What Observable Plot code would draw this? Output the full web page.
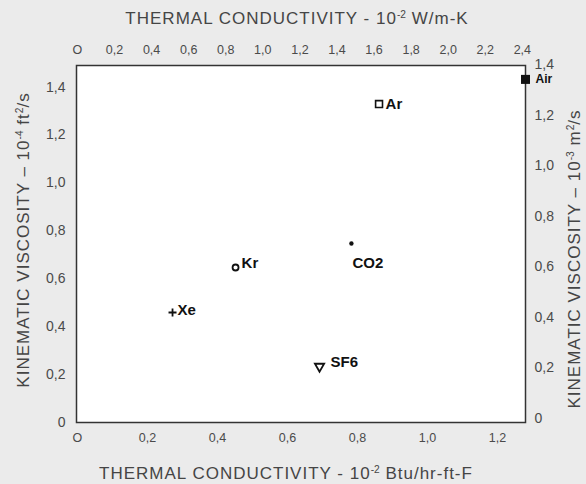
<!DOCTYPE html>
<html>
<head>
<meta charset="utf-8">
<script src="https://cdn.jsdelivr.net/npm/d3@7"></script>
<script src="https://cdn.jsdelivr.net/npm/@observablehq/plot@0.6"></script>
<style>
  html, body { margin: 0; padding: 0; background: #ebebeb; }
  #wrap { position: relative; width: 586px; height: 484px; background: #ebebeb; overflow: hidden;
          font-family: "Liberation Sans", Arial, sans-serif; color: #454545; }
  #wrap svg { position: absolute; left: 0; top: 0; }
  .ttl { position: absolute; white-space: nowrap; font-size: 17px; letter-spacing: 1px; line-height: 17px; }
  .ttl sup { font-size: 0.6em; line-height: 0; vertical-align: 0.55em; letter-spacing: 0; }
  #top { left: 297px; top: 18px; transform: translate(-50%, -50%); }
  #bottom { left: 286px; top: 473px; transform: translate(-50%, -50%); }
  #left { left: 23px; top: 240px; transform: translate(-50%, -50%) rotate(-90deg); }
  #right { left: 574px; top: 259px; transform: translate(-50%, -50%) rotate(-90deg); }
</style>
</head>
<body>
<div id="wrap">
  <div class="ttl" id="top">THERMAL CONDUCTIVITY - 10<sup>-2</sup> W/m-K</div>
  <div class="ttl" id="bottom">THERMAL CONDUCTIVITY - 10<sup>-2</sup> Btu/hr-ft-F</div>
  <div class="ttl" id="left">KINEMATIC VISCOSITY – 10<sup>-4</sup> ft<sup>2</sup>/s</div>
  <div class="ttl" id="right">KINEMATIC VISCOSITY – 10<sup>-3</sup> m<sup>2</sup>/s</div>
</div>
<script>
// ---- tick values & labels ----
const wmkTicks = [0, 0.2, 0.4, 0.6, 0.8, 1.0, 1.2, 1.4, 1.6, 1.8, 2.0, 2.2, 2.4];
const wmkLabels = ["O", "0,2", "0,4", "0,6", "0,8", "1,0", "1,2", "1,4", "1,6", "1,8", "2,0", "2,2", "2,4"];
const btuTicks = [0, 0.2, 0.4, 0.6, 0.8, 1.0, 1.2];
const btuLabels = ["O", "0,2", "0,4", "0,6", "0,8", "1,0", "1,2"];
const ft2Ticks = [0, 0.2, 0.4, 0.6, 0.8, 1.0, 1.2, 1.4];
const ft2Labels = ["0", "0,2", "0,4", "0,6", "0,8", "1,0", "1,2", "1,4"];
const m2Ticks = [0, 0.2, 0.4, 0.6, 0.8, 1.0, 1.2, 1.4];
const m2Labels = ["0", "0,2", "0,4", "0,6", "0,8", "1,0", "1,2", "1,4"];

// ---- data (top axis units: 10^-2 W/m-K ; left axis units: 10^-4 ft²/s) ----
const gases = ["Air", "Ar", "CO2", "Kr", "Xe", "SF6"];
const conductivity = [2.417, 1.627, 1.478, 0.853, 0.513, 1.306];
const viscosity = [1.432, 1.329, 0.747, 0.647, 0.459, 0.234];

// secondary axes, as drawn in the picture, relative to the primary ones
const BTU_TO_WMK = 1.888;
const M2_OFFSET = 0.0167, M2_SCALE = 1.0555;

// ---- styles ----
const ink = "#111";
const markerStyle = {
  Air: {symbol: "square", r: 5.1, fill: ink, stroke: "none"},
  Ar:  {symbol: "square", r: 3.9, fill: "white", stroke: ink, strokeWidth: 1.6},
  CO2: {symbol: "circle", r: 2.2, fill: ink, stroke: "none"},
  Kr:  {symbol: "circle", r: 3, fill: "none", stroke: ink, strokeWidth: 1.8},
  Xe:  {symbol: "plus", r: 2.7, fill: "none", stroke: ink, strokeWidth: 1.8},
  SF6: {symbol: "triangle2", r: 4.4, rotate: 180, fill: "none", stroke: ink, strokeWidth: 1.8}
};
const labelStyle = {
  Air: {dx: 10, dy: 0, fontSize: 12},
  Ar:  {dx: 6.5, dy: 0, fontSize: 15},
  CO2: {dx: 1, dy: 20, fontSize: 15},
  Kr:  {dx: 6, dy: -4, fontSize: 15},
  Xe:  {dx: 5, dy: -2, fontSize: 15},
  SF6: {dx: 11, dy: -4, fontSize: 15}
};

const idx = gases.map((_, i) => i);
const btuPos = btuTicks.map(v => v * BTU_TO_WMK);
const m2Pos = m2Ticks.map(v => M2_OFFSET + v * M2_SCALE);

const pointMarks = [];
for (const i of idx) {
  const g = gases[i];
  pointMarks.push(Plot.dot([i], {x: j => conductivity[j], y: j => viscosity[j], ...markerStyle[g]}));
}
for (const i of idx) {
  const g = gases[i];
  pointMarks.push(Plot.text([i], {
    x: j => conductivity[j], y: j => viscosity[j], text: j => gases[j],
    textAnchor: "start", lineAnchor: "middle", fontWeight: "bold", fill: ink,
    ...labelStyle[g]
  }));
}

const axisText = "#4a4a4a";
const chart = Plot.plot({
  width: 586,
  height: 484,
  marginTop: 65, marginBottom: 62, marginLeft: 76, marginRight: 61,
  style: {background: "transparent", fontFamily: "Liberation Sans, Arial, sans-serif", overflow: "visible"},
  x: {domain: [-0.005, 2.417]},
  y: {domain: [0, 1.49]},
  marks: [
    Plot.frame({fill: "white", stroke: null}),
    Plot.axisX(wmkTicks, {anchor: "top", tickSize: 0, tickPadding: 11.5, fontSize: 12.5, color: axisText, label: null,
      tickFormat: d => wmkLabels[wmkTicks.indexOf(d)]}),
    Plot.axisX(btuPos, {anchor: "bottom", tickSize: 0, tickPadding: 10.5, fontSize: 12.5, color: axisText, label: null,
      tickFormat: d => btuLabels[btuPos.indexOf(d)]}),
    Plot.axisY(ft2Ticks, {anchor: "left", tickSize: 0, tickPadding: 11, fontSize: 14, color: axisText, label: null,
      tickFormat: d => ft2Labels[ft2Ticks.indexOf(d)]}),
    Plot.axisY(m2Pos, {anchor: "right", tickSize: 0, tickPadding: 9, fontSize: 14, color: axisText, label: null,
      tickFormat: d => m2Labels[m2Pos.indexOf(d)]}),
    Plot.frame({stroke: "#333", strokeWidth: 1.5}),
    ...pointMarks
  ]
});
document.getElementById("wrap").prepend(chart);
</script>
</body>
</html>
